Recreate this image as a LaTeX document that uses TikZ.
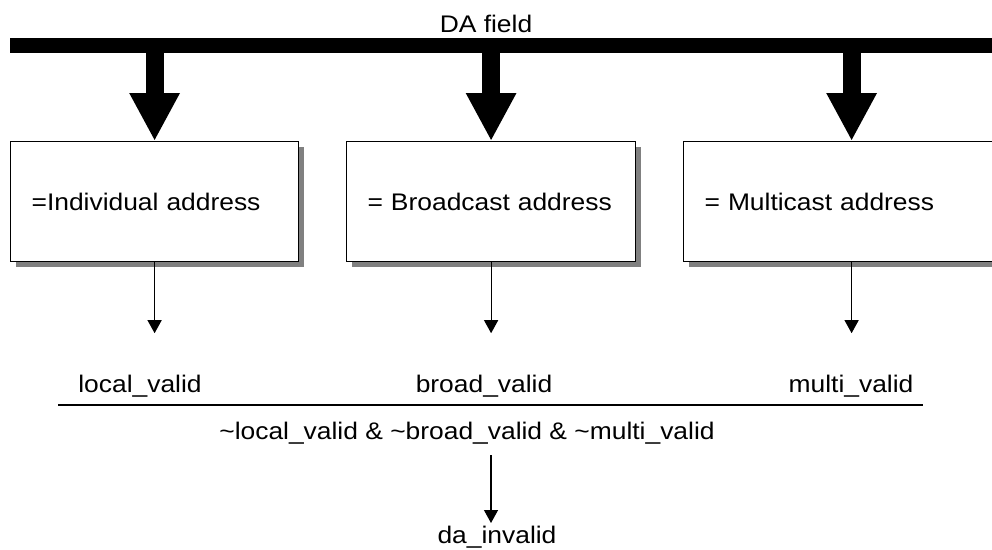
\documentclass[tikz,border=0pt]{standalone}
\usepackage{fontspec}
\setmainfont{Liberation Sans}[FakeStretch=1.1]
\usepackage{tikz}
\usetikzlibrary{arrows.meta,shadows,positioning,calc}

\begin{document}
\begin{tikzpicture}[x=1pt, y=-1pt, font=\fontsize{24}{28}\selectfont,
    addr/.style={rectangle, draw, line width=1.2pt, fill=white, anchor=north west,
        minimum height=120pt, align=left, inner xsep=21pt,
        drop shadow={shadow xshift=5pt, shadow yshift=-5pt, fill=black!50, opacity=1}},
    bigarrow/.style={line width=18pt, -{Triangle[width=47pt,length=48pt]}},
    thinarrow/.style={line width=1.2pt, -{Triangle[width=14pt,length=13pt]}},
    sig/.style={anchor=base}]

        \useasboundingbox (0,0) rectangle (992,549);
        \clip (0,0) rectangle (992,549);

        % the DA field bus
        \node[sig] (da) at (486,32) {DA field};
        \coordinate (busL) at (10,45.5);
        \coordinate (busR) at (1000,45.5);
        \draw[line width=15pt] (busL) -- (busR);

        % the three compare boxes (the last one runs off the page)
        \foreach \n/ \x/ \w/ \t in {ind/10/246/{=Individual address}, bro/346/247/{= Broadcast address}, mul/683/294/{= Multicast address}}{
            \node[addr, text width=\w pt] (\n) at (\x,141) {\t};
            \draw[bigarrow] (\n.north |- busL) -- (\n.north);
        }

        % outputs of the boxes
        \foreach \n/ \l/ \x/ \t in {ind/loc/140/local\_valid, bro/brd/484/broad\_valid, mul/mlt/851/multi\_valid}{
            \coordinate (\n end) at ($(\n.south)+(0,71)$);
            \draw[thinarrow] (\n.south) -- (\n end);
            \node[sig] (\l) at (\x,392) {\t};
        }

        \coordinate (barL) at (58,405);
        \coordinate (barR) at (923,405);
        \draw[line width=1.2pt] (barL) -- (barR);

        \node[sig] (expr) at (467,439) {\textasciitilde local\_valid \& \textasciitilde broad\_valid \& \textasciitilde multi\_valid};
        \node[sig] (inv) at (497,543) {da\_invalid};

        \coordinate (o1) at (491,455);
        \coordinate (o2) at (491,523);
        \draw[thinarrow] (o1) -- (o2);

\end{tikzpicture}
\end{document}
